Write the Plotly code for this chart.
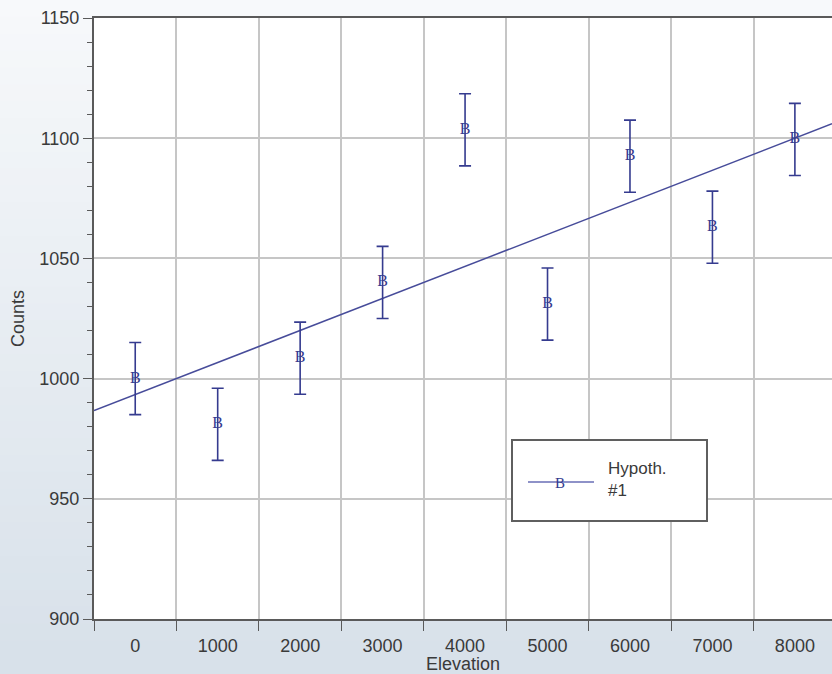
import numpy as np
import plotly.graph_objects as go

# ---- data ----
elevation = [0, 1000, 2000, 3000, 4000, 5000, 6000, 7000, 8000]
counts = [1000, 981, 1008.5, 1040, 1103.5, 1031, 1092.5, 1063, 1099.5]
count_err = [15, 15, 15, 15, 15, 15, 15, 15, 15]
hyp_x = [-500, 8450]
hyp_y = [986.7, 1106.0]
x_tick_vals = [0, 1000, 2000, 3000, 4000, 5000, 6000, 7000, 8000]
x_tick_text = ["0", "1000", "2000", "3000", "4000", "5000", "6000", "7000", "8000"]
y_tick_vals = [900, 950, 1000, 1050, 1100, 1150]
legend_label = "Hypoth.<br>#1"

W, H = 832, 674
ML, MR, MT, MB = 94, 0, 18, 55
PW, PH = W - ML - MR, H - MT - MB

def px(x):
    return (x - ML) / PW

def py(y):
    return (H - MB - y) / PH

NAVY = "#353b8f"
AX = "#5a5a5a"
GRID = "#c6c6c6"
TXT = "#3a3a3a"
SANS = "Liberation Sans, Arial, sans-serif"
SERIF = "Liberation Serif, Times New Roman, serif"

fig = go.Figure()

fig.add_trace(go.Scatter(
    x=hyp_x, y=hyp_y, mode="lines",
    line=dict(color="#474c9a", width=1.5),
    showlegend=False, hoverinfo="skip"))

fig.add_trace(go.Scatter(
    x=elevation, y=counts, mode="markers+text",
    text=["B"] * len(elevation), textposition="middle center",
    textfont=dict(family=SERIF, size=16, color=NAVY),
    marker=dict(size=1, opacity=0),
    error_y=dict(type="data", array=count_err, visible=True,
                 color=NAVY, thickness=1.6, width=6),
    showlegend=False))

# background gradient (decoration)
shapes = []
n = 40
top = np.array([247, 249, 251])
bot = np.array([216, 225, 234])
for i in range(n):
    t = i / (n - 1)
    c = top + (bot - top) * t
    y0 = H * i / n
    y1 = H * (i + 1) / n + 1
    shapes.append(dict(type="rect", xref="paper", yref="paper", layer="below",
                       x0=px(0), x1=px(W), y0=py(y1), y1=py(y0),
                       line=dict(width=0),
                       fillcolor="rgb(%d,%d,%d)" % tuple(c.astype(int))))
shapes.append(dict(type="rect", xref="paper", yref="paper", layer="below",
                   x0=0, x1=1, y0=0, y1=1, line=dict(width=0), fillcolor="white"))

# legend box (manual)
shapes.append(dict(type="rect", xref="paper", yref="paper",
                   x0=px(512), x1=px(707), y0=py(521), y1=py(440),
                   line=dict(color="#5f5f5f", width=2), fillcolor="white"))
shapes.append(dict(type="line", xref="paper", yref="paper",
                   x0=px(528), x1=px(594), y0=py(482), y1=py(482),
                   line=dict(color="#8e92c8", width=2)))

annotations = [
    dict(xref="paper", yref="paper", x=px(560), y=py(483), text="B",
         showarrow=False, font=dict(family=SERIF, size=15, color=NAVY),
         xanchor="center", yanchor="middle"),
    dict(xref="paper", yref="paper", x=px(606), y=py(479), text=legend_label,
         showarrow=False, font=dict(family=SANS, size=17, color=TXT),
         xanchor="left", yanchor="middle", align="left"),
]

fig.update_layout(
    width=W, height=H,
    margin=dict(l=ML, r=MR, t=MT, b=MB, pad=0),
    paper_bgcolor="#e6ecf2", plot_bgcolor="rgba(0,0,0,0)",
    shapes=shapes, annotations=annotations,
    showlegend=False,
    font=dict(family=SANS, size=18, color=TXT),
)

fig.update_xaxes(
    range=[-500, 8450], tickmode="array", tickvals=x_tick_vals, ticktext=x_tick_text,
    ticks="outside", ticklen=9, tickcolor="rgba(0,0,0,0)",
    showgrid=False, zeroline=False,
    showline=True, linecolor=AX, linewidth=2, mirror=True,
    tickfont=dict(family=SANS, size=18, color=TXT),
    minor=dict(tick0=-500, dtick=1000, ticks="outside", ticklen=10,
               tickcolor=AX, tickwidth=1, showgrid=True, gridcolor=GRID, gridwidth=2),
    title=dict(text="Elevation", font=dict(family=SANS, size=18, color=TXT), standoff=0),
    automargin=False,
)

fig.update_yaxes(
    range=[900, 1150], tickmode="array", tickvals=y_tick_vals,
    ticks="outside", ticklen=9, tickcolor=AX, tickwidth=1,
    showgrid=True, gridcolor=GRID, gridwidth=2, zeroline=False,
    showline=True, linecolor=AX, linewidth=2, mirror=True,
    tickfont=dict(family=SANS, size=18, color=TXT),
    minor=dict(tick0=900, dtick=10, ticks="outside", ticklen=5,
               tickcolor=AX, tickwidth=1, showgrid=False),
    title=dict(text="Counts", font=dict(family=SANS, size=18, color=TXT), standoff=10),
    automargin=False,
)

fig.write_html("out.html", config={"displayModeBar": False},
               post_script="document.body.style.margin='0';")
